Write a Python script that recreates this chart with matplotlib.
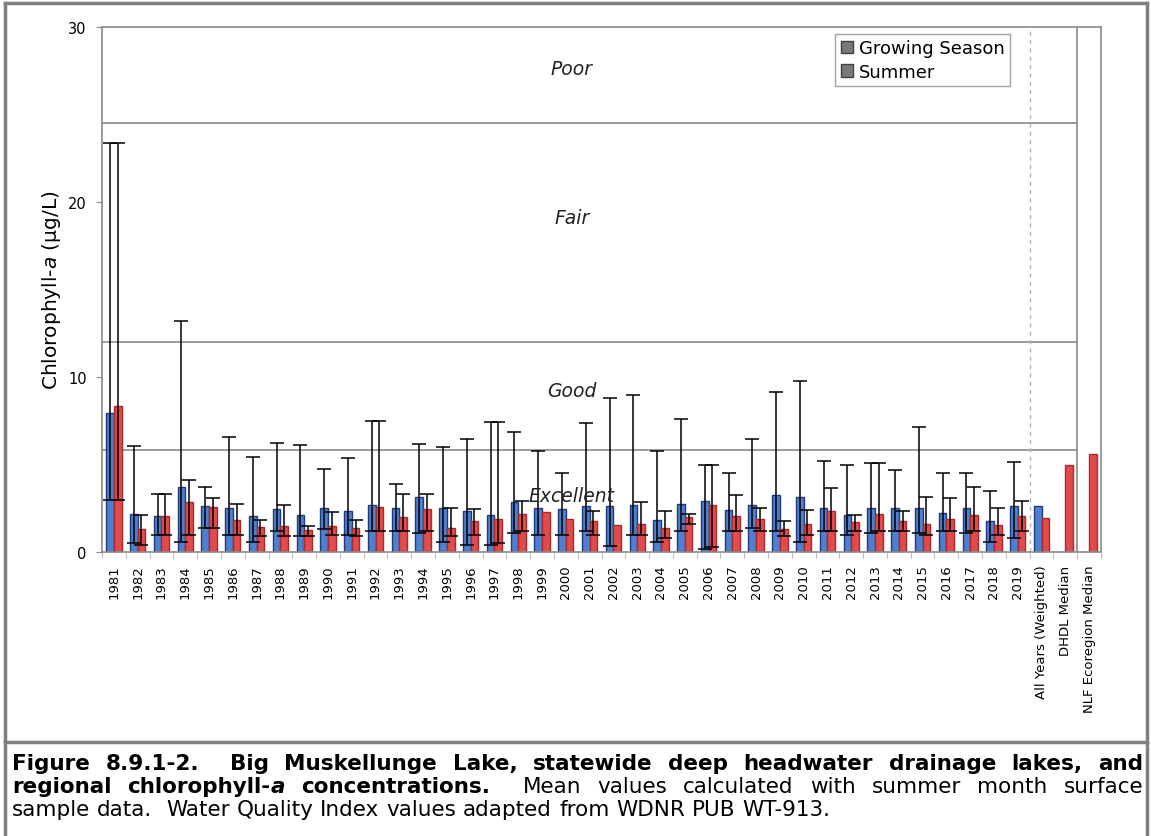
import matplotlib
matplotlib.use("Agg")
import matplotlib.pyplot as plt
import numpy as np
from matplotlib.lines import Line2D
from matplotlib.patches import Patch

nan = np.nan

years = [str(y) for y in range(1981, 2020)]
categories = years + ["All Years (Weighted)", "DHDL Median", "NLF Ecoregion Median"]

# mean chlorophyll-a (ug/L), one value per year, then all-years / DHDL / NLF
growing_mean = [7.93, 2.20, 2.07, 3.73, 2.63, 2.53, 2.04, 2.46, 2.13, 2.52,
                2.33, 2.70, 2.54, 3.12, 2.54, 2.34, 2.10, 2.83, 2.54, 2.44,
                2.63, 2.63, 2.68, 1.85, 2.73, 2.93, 2.39, 2.68, 3.27, 3.12,
                2.49, 2.10, 2.54, 2.54, 2.54, 2.24, 2.54, 1.76, 2.63,
                2.63, nan, nan]
summer_mean = [8.36, 1.30, 2.07, 2.87, 2.55, 1.83, 1.41, 1.50, 1.24, 1.50,
               1.36, 2.58, 2.00, 2.44, 1.37, 1.76, 1.90, 2.15, 2.30, 1.90,
               1.76, 1.56, 1.60, 1.37, 2.00, 2.68, 2.05, 1.90, 1.32, 1.60,
               2.34, 1.70, 2.15, 1.76, 1.60, 1.90, 2.10, 1.56, 2.05,
               1.95, 4.95, 5.60]

# max / min of the yearly samples (error bars)
growing_max = [23.4, 6.05, 3.30, 13.2, 3.73, 6.55, 5.45, 6.25, 6.10, 4.75,
               5.35, 7.50, 3.90, 6.20, 6.00, 6.45, 7.45, 6.83, 5.75, 4.50,
               7.37, 8.78, 8.97, 5.80, 7.60, 4.97, 4.53, 6.45, 9.17, 9.75,
               5.22, 4.97, 5.07, 4.68, 7.17, 4.50, 4.53, 3.46, 5.17,
               nan, nan, nan]
summer_max = [23.4, 2.10, 3.30, 4.13, 3.07, 2.72, 1.85, 2.70, 1.50, 2.26,
              1.85, 7.50, 3.30, 3.30, 2.54, 2.44, 7.45, 2.93, nan, nan,
              2.34, nan, 2.83, 2.34, 2.20, 4.97, 3.27, 2.49, 1.76, 2.39,
              3.66, 2.10, 5.07, 2.34, 3.12, 3.07, 3.70, 2.49, 2.93,
              nan, nan, nan]
growing_min = [3.0, 0.5, 1.0, 0.6, 1.4, 1.0, 0.57, 1.2, 0.9, 1.3,
               1.0, 1.2, 1.2, 1.1, 0.6, 0.4, 0.4, 1.1, 1.0, 1.0,
               1.2, 0.35, 1.0, 0.6, 1.2, 0.2, 1.2, 1.4, 1.2, 0.6,
               1.2, 1.0, 1.1, 1.2, 1.1, 1.2, 1.1, 0.6, 0.8,
               nan, nan, nan]
summer_min = [3.0, 0.4, 1.0, 1.0, 1.4, 1.0, 0.9, 0.9, 0.9, 1.0,
              0.9, 1.2, 1.2, 1.2, 0.9, 1.0, 0.5, 1.2, nan, nan,
              1.0, nan, 1.0, 0.8, 1.6, 0.3, 1.2, 1.2, 0.9, 1.0,
              1.2, 1.2, 1.2, 1.2, 1.0, 1.2, 1.2, 1.0, 1.2,
              nan, nan, nan]

# water quality index class limits and labels
class_limits = [5.85, 12.0, 24.5]
class_names = ["Excellent", "Good", "Fair", "Poor"]
class_label_y = [3.2, 9.2, 19.1, 27.6]

BLUE = "#4f80cf"
BLUE_EDGE = "#1f3b78"
RED = "#e24b4b"
RED_EDGE = "#a82a2a"
GRID = "#8a8a8a"

plt.rcParams["font.family"] = ["DejaVu Sans"]
plt.rcParams["mathtext.fontset"] = "dejavusans"

W_PX, H_PX = 1151, 837
fig = plt.figure(figsize=(W_PX / 100, H_PX / 100), dpi=100, facecolor="white")
ax = fig.add_axes([102 / W_PX, 1 - 553 / H_PX, (1101 - 102) / W_PX, (553 - 28) / H_PX])

x = np.arange(len(categories))
gm = np.array(growing_mean)
sm = np.array(summer_mean)
width = 0.32
off = 0.16

ax.bar(x - off, gm, width, color=BLUE, edgecolor=BLUE_EDGE, linewidth=1.0, zorder=2)
ax.bar(x + off, sm, width, color=RED, edgecolor=RED_EDGE, linewidth=1.0, zorder=2)


def draw_err(xpos, mean, lo, hi):
    lo = np.array(lo)
    hi = np.array(hi)
    ok = ~np.isnan(hi)
    lower = np.where(np.isnan(lo), 0.0, mean - lo)
    ax.errorbar(xpos[ok], mean[ok], yerr=[lower[ok], (hi - mean)[ok]], fmt="none",
                ecolor="black", elinewidth=1.1, capsize=5, capthick=1.1, zorder=3)


draw_err(x - off, gm, growing_min, growing_max)
draw_err(x + off, sm, summer_min, summer_max)

# class boundaries
ax.hlines(class_limits, -0.5, 40.5, colors=GRID, linewidth=1.2, zorder=1)
ax.axvline(38.5, color="#b0b0b0", linestyle=(0, (3, 3)), linewidth=1.0, zorder=1)
ax.axvline(40.5, color=GRID, linewidth=1.2, zorder=1)
for name, yy in zip(class_names, class_label_y):
    ax.text(19.25, yy, name, ha="center", va="center", fontsize=13.5,
            fontstyle="italic", color="#222222", zorder=4)

ax.set_xlim(-0.5, len(categories) - 0.5)
ax.set_ylim(0, 30)
ax.set_yticks([0, 10, 20, 30])
ax.tick_params(axis="y", labelsize=10.5, length=4, pad=7, color=GRID)
ax.set_xticks(x)
ax.set_xticklabels(categories, rotation=90, fontsize=9.5)
ax.set_xticks(np.arange(-0.5, len(categories)), minor=True)
ax.tick_params(axis="x", which="major", length=0, pad=9)
ax.tick_params(axis="x", which="minor", length=4, color="#b0b0b0")
for sp in ax.spines.values():
    sp.set_color(GRID)
    sp.set_linewidth(1.2)

ax.set_ylabel("Chlorophyll-$a$ (µg/L)", fontsize=14.5, va="center")
ax.yaxis.set_label_coords(-50 / 999, 0.5)

handles = [Patch(facecolor="#7a7a7a", edgecolor="#404040"),
           Patch(facecolor="#7a7a7a", edgecolor="#404040")]
leg = ax.legend(handles, ["Growing Season", "Summer"], loc="upper right",
                bbox_to_anchor=((1010 - 102) / 999, (553 - 35) / 525),
                fontsize=13, frameon=True, fancybox=False, edgecolor=GRID,
                handlelength=0.7, handleheight=0.7, handletextpad=0.3,
                borderpad=0.3, labelspacing=0.3, borderaxespad=0)
leg.get_frame().set_linewidth(1.0)

# page frame and caption separator
for (x0, y0, x1, y1) in [(5, 4, 1147, 4), (5, 4, 5, 837), (1147, 4, 1147, 837),
                         (5, 743, 1147, 743)]:
    fig.add_artist(Line2D([x0 / W_PX, x1 / W_PX], [1 - y0 / H_PX, 1 - y1 / H_PX],
                          color="#7f7f7f", linewidth=2.5))

renderer = fig.canvas.get_renderer()


def caption_line(tokens, y_px, size, justify, x0=12, x1=1143):
    items = []
    for segs, gap in tokens:
        arts = []
        for text, weight, style in segs:
            t = fig.text(0, 1 - y_px / H_PX, text, fontsize=size, fontweight=weight,
                         fontstyle=style, va="baseline", ha="left")
            arts.append((t, t.get_window_extent(renderer).width))
        items.append((arts, gap))
    total_w = sum(bw for arts, _ in items for _, bw in arts)
    units = sum(g for _, g in items[:-1])
    if justify:
        unit = (x1 - x0 - total_w) / units
    else:
        a = fig.text(0, 0, "a b", fontsize=size)
        b = fig.text(0, 0, "ab", fontsize=size)
        unit = a.get_window_extent(renderer).width - b.get_window_extent(renderer).width
        a.remove()
        b.remove()
    xp = x0
    for arts, gap in items:
        for t, bw in arts:
            t.set_x(xp / W_PX)
            xp += bw
        xp += gap * unit


def words(text, weight):
    toks = []
    for part in text.split(" "):
        if part == "":
            toks[-1] = (toks[-1][0], toks[-1][1] + 1)
        else:
            toks.append(([(part, weight, "normal")], 1))
    return toks


cap_size = 15.5
line1 = words("Figure 8.9.1-2.  Big Muskellunge Lake, statewide deep headwater drainage lakes, and", "bold")
line2 = ([([("regional", "bold", "normal")], 1),
          ([("chlorophyll-", "bold", "normal"), ("a", "bold", "italic")], 1),
          ([("concentrations.", "bold", "normal")], 2)]
         + words("Mean values calculated with summer month surface", "normal"))
line3 = words("sample data.  Water Quality Index values adapted from WDNR PUB WT-913.", "normal")

caption_line(line1, 770, cap_size, True)
caption_line(line2, 793, cap_size, True)
caption_line(line3, 816, cap_size, False)

fig.savefig("out.png", dpi=100, facecolor="white")
